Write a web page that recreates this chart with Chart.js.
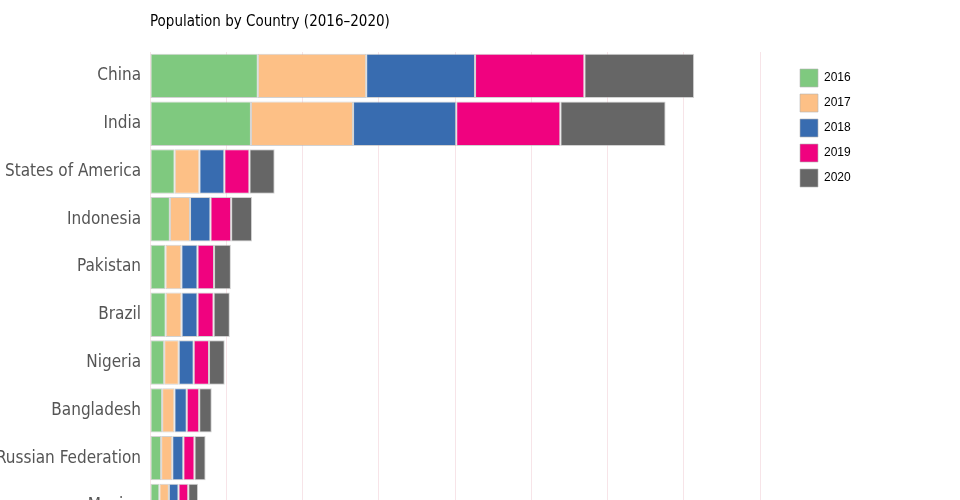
<!DOCTYPE html>
<html>
<head>
<meta charset="utf-8">
<script src="https://cdn.jsdelivr.net/npm/chart.js@4"></script>
<style>
  html, body { margin: 0; padding: 0; background: #fff; overflow: hidden; }
  #wrap { width: 960px; height: 549px; }
</style>
</head>
<body>
<div id="wrap"><canvas id="myChart"></canvas></div>
<script>
// population in millions
const countries = ['China', 'India', 'United States of America', 'Indonesia', 'Pakistan',
    'Brazil', 'Nigeria', 'Bangladesh', 'Russian Federation', 'Mexico'];
const years = ['2016', '2017', '2018', '2019', '2020'];
const pop2016 = [1414, 1324, 323, 261, 203, 206, 186, 159, 145.8, 123.2];
const pop2017 = [1421, 1339, 325, 264, 208, 208, 191, 161, 145.9, 124.8];
const pop2018 = [1428, 1353, 327, 268, 212, 209, 196, 162, 145.9, 126.2];
const pop2019 = [1434, 1366, 329, 271, 217, 211, 201, 163, 145.9, 127.6];
const pop2020 = [1439, 1380, 331, 274, 221, 213, 206, 165, 145.9, 128.9];
const xTicks = [0, 1000, 2000, 3000, 4000, 5000, 6000, 7000, 8000];

const colors = ['#7fc97f', '#fdc086', '#386cb0', '#f0027f', '#666666'];
const series = [pop2016, pop2017, pop2018, pop2019, pop2020];
const narrow = "'Liberation Sans Narrow', 'DejaVu Sans Condensed', sans-serif";

// legend keeps a fixed width so the plot stops where the reference does
const legendWidth = {
    id: 'legendWidth',
    beforeLayout(chart) {
        const lg = chart.legend;
        if (lg && !lg._fixed) {
            const fit = lg.fit.bind(lg);
            lg.fit = function () { fit(); this.width = 167; };
            lg._fixed = true;
        }
    }
};

document.addEventListener('DOMContentLoaded', () => {
    const ctx = document.getElementById('myChart').getContext('2d');
    new Chart(ctx, {
        type: 'bar',
        data: {
            labels: countries,
            datasets: series.map((vals, i) => ({
                label: years[i],
                data: vals,
                backgroundColor: colors[i],
                borderColor: 'rgba(180, 180, 180, 0.6)',
                borderWidth: 1,
                borderSkipped: false,
                barPercentage: 0.93,
                categoryPercentage: 1
            }))
        },
        options: {
            indexAxis: 'y',
            responsive: true,
            maintainAspectRatio: false,
            animation: false,
            layout: { padding: 0 },
            scales: {
                x: {
                    stacked: true,
                    min: 0,
                    max: 8000,
                    afterBuildTicks: (s) => { s.ticks = xTicks.map(v => ({ value: v })); },
                    grid: { color: '#f7e4e8', drawTicks: false },
                    border: { display: false },
                    ticks: { display: false }
                },
                y: {
                    stacked: true,
                    grid: { display: false, drawTicks: false },
                    border: { display: false },
                    afterFit: (s) => { s.width = 150; },
                    ticks: {
                        padding: 9,
                        color: '#555555',
                        font: { family: narrow, size: 17 }
                    }
                },
                gap: {
                    position: 'right',
                    grid: { display: false, drawTicks: false },
                    border: { display: false },
                    ticks: { display: false },
                    afterFit: (s) => { s.width = 33; }
                }
            },
            plugins: {
                title: {
                    display: true,
                    text: 'Population by Country (2016–2020)',
                    align: 'start',
                    fullSize: false,
                    color: '#000',
                    font: { family: narrow, size: 15, weight: 'normal' },
                    padding: { top: 13, bottom: 21 }
                },
                legend: {
                    display: true,
                    position: 'right',
                    align: 'start',
                    fullSize: false,
                    title: { display: true, text: '', font: { size: 5 }, padding: { top: 2, bottom: 2 } },
                    labels: {
                        color: '#000',
                        boxWidth: 18,
                        boxHeight: 18,
                        padding: 7,
                        font: { family: "'Liberation Sans', sans-serif", size: 12 }
                    }
                },
                tooltip: { enabled: false }
            }
        },
        plugins: [legendWidth]
    });
});
</script>
</body>
</html>
